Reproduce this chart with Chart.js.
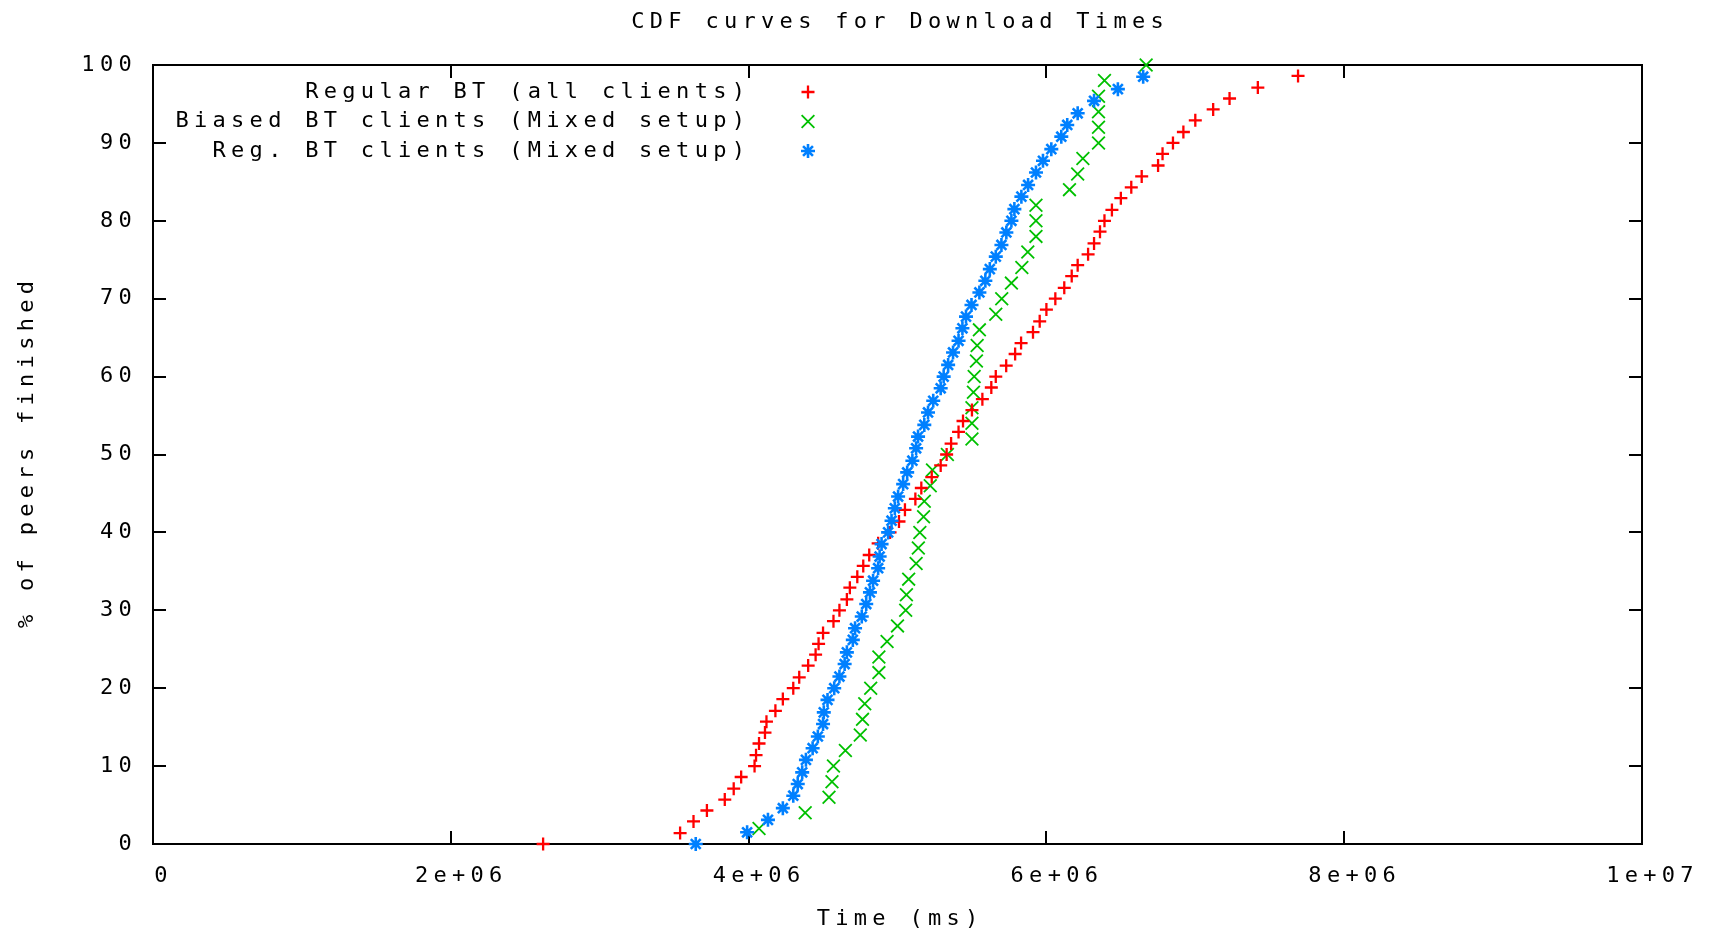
<!DOCTYPE html>
<html>
<head>
<meta charset="utf-8">
<title>CDF curves for Download Times</title>
<script src="https://cdn.jsdelivr.net/npm/chart.js@4.4.0/dist/chart.umd.min.js"></script>
<style>
  html, body { margin: 0; padding: 0; background: #fff; }
  #wrap { width: 1710px; height: 929px; position: relative; }
</style>
</head>
<body>
<div id="wrap"><canvas id="cdfChart"></canvas></div>
<script>
// Download time (ms) for each peer, sorted, and the % of peers finished at that point
const regularAllTime = [2.62e6, 3.54e6, 3.63e6, 3.72e6, 3.84e6, 3.90e6, 3.95e6, 4.04e6, 4.05e6, 4.07e6,
  4.11e6, 4.12e6, 4.18e6, 4.23e6, 4.30e6, 4.34e6, 4.40e6, 4.45e6, 4.47e6, 4.50e6,
  4.57e6, 4.61e6, 4.66e6, 4.68e6, 4.73e6, 4.77e6, 4.81e6, 4.87e6, 4.95e6, 5.01e6,
  5.05e6, 5.12e6, 5.16e6, 5.23e6, 5.29e6, 5.33e6, 5.36e6, 5.41e6, 5.44e6, 5.50e6,
  5.57e6, 5.63e6, 5.66e6, 5.73e6, 5.79e6, 5.83e6, 5.91e6, 5.955e6, 6.00e6, 6.06e6,
  6.12e6, 6.17e6, 6.21e6, 6.28e6, 6.32e6, 6.36e6, 6.39e6, 6.44e6, 6.50e6, 6.57e6,
  6.64e6, 6.75e6, 6.78e6, 6.85e6, 6.92e6, 7.00e6, 7.12e6, 7.23e6, 7.42e6, 7.69e6];
const regularAllPct = [0, 1.4, 2.9, 4.3, 5.7, 7.1, 8.6, 10.0, 11.4, 12.9,
  14.3, 15.7, 17.1, 18.6, 20.0, 21.4, 22.9, 24.3, 25.7, 27.1,
  28.6, 30.0, 31.4, 32.9, 34.3, 35.7, 37.1, 38.6, 40.0, 41.4,
  42.9, 44.3, 45.7, 47.1, 48.6, 50.0, 51.4, 52.9, 54.3, 55.7,
  57.1, 58.6, 60.0, 61.4, 62.9, 64.3, 65.7, 67.1, 68.6, 70.0,
  71.4, 72.9, 74.3, 75.7, 77.1, 78.6, 80.0, 81.4, 82.9, 84.3,
  85.7, 87.1, 88.6, 90.0, 91.4, 92.9, 94.3, 95.7, 97.1, 98.6];

const biasedMixedTime = [4.07e6, 4.38e6, 4.54e6, 4.56e6, 4.57e6, 4.65e6, 4.75e6, 4.765e6, 4.78e6, 4.82e6,
  4.875e6, 4.875e6, 4.93e6, 5.00e6, 5.055e6, 5.06e6, 5.075e6, 5.125e6, 5.14e6, 5.15e6,
  5.175e6, 5.18e6, 5.22e6, 5.235e6, 5.335e6, 5.50e6, 5.50e6, 5.50e6, 5.51e6, 5.515e6,
  5.53e6, 5.535e6, 5.55e6, 5.66e6, 5.70e6, 5.765e6, 5.835e6, 5.875e6, 5.93e6, 5.93e6,
  5.93e6, 6.155e6, 6.21e6, 6.245e6, 6.35e6, 6.35e6, 6.35e6, 6.35e6, 6.39e6, 6.67e6];
const biasedMixedPct = [2, 4, 6, 8, 10, 12, 14, 16, 18, 20,
  22, 24, 26, 28, 30, 32, 34, 36, 38, 40,
  42, 44, 46, 48, 50, 52, 54, 56, 58, 60,
  62, 64, 66, 68, 70, 72, 74, 76, 78, 80,
  82, 84, 86, 88, 90, 92, 94, 96, 98, 100];

const regularMixedTime = [3.645e6, 3.99e6, 4.13e6, 4.23e6, 4.30e6, 4.33e6, 4.36e6, 4.385e6, 4.43e6, 4.465e6,
  4.50e6, 4.505e6, 4.53e6, 4.575e6, 4.61e6, 4.645e6, 4.66e6, 4.70e6, 4.715e6, 4.76e6,
  4.79e6, 4.815e6, 4.836e6, 4.87e6, 4.88e6, 4.893e6, 4.937e6, 4.96e6, 4.982e6, 5.004e6,
  5.038e6, 5.065e6, 5.10e6, 5.125e6, 5.138e6, 5.18e6, 5.205e6, 5.24e6, 5.29e6, 5.31e6,
  5.34e6, 5.373e6, 5.41e6, 5.436e6, 5.46e6, 5.497e6, 5.55e6, 5.59e6, 5.62e6, 5.66e6,
  5.698e6, 5.731e6, 5.765e6, 5.785e6, 5.832e6, 5.877e6, 5.93e6, 5.977e6, 6.033e6, 6.10e6,
  6.14e6, 6.21e6, 6.32e6, 6.48e6, 6.65e6];
const regularMixedPct = [0, 1.5, 3.1, 4.6, 6.2, 7.7, 9.2, 10.8, 12.3, 13.8,
  15.4, 16.9, 18.5, 20.0, 21.5, 23.1, 24.6, 26.2, 27.7, 29.2,
  30.8, 32.3, 33.8, 35.4, 36.9, 38.5, 40.0, 41.5, 43.1, 44.6,
  46.2, 47.7, 49.2, 50.8, 52.3, 53.8, 55.4, 56.9, 58.5, 60.0,
  61.5, 63.1, 64.6, 66.2, 67.7, 69.2, 70.8, 72.3, 73.8, 75.4,
  76.9, 78.5, 80.0, 81.5, 83.1, 84.6, 86.2, 87.7, 89.2, 90.8,
  92.3, 93.8, 95.4, 96.9, 98.5];

const seriesLabels = ['Regular BT (all clients)', 'Biased BT clients (Mixed setup)', 'Reg. BT clients (Mixed setup)'];
const xTickValues = [0, 2e6, 4e6, 6e6, 8e6, 1e7];
const xTickLabels = ['0', '2e+06', '4e+06', '6e+06', '8e+06', '1e+07'];
const yTickValues = [0, 10, 20, 30, 40, 50, 60, 70, 80, 90, 100];

const chartTitle = 'CDF curves for Download Times';
const xTitle = 'Time (ms)';
const yTitle = '% of peers finished';

const FONT = "'DejaVu Sans Mono', 'Liberation Mono', monospace";
const FONT_SIZE = 22;
const GAP = 5.3; // gnuplot's font is very wide, so space the letters out
const TICK = 13;

const pairs = (xs, ys) => xs.map((x, i) => ({ x: x, y: ys[i] }));

const markers = [
  { style: 'cross', color: '#ff0000', radius: 6.5, width: 2.3 },
  { style: 'crossRot', color: '#00c000', radius: 9, width: 1.8 },
  { style: 'star', color: '#0080ff', radius: 7, width: 2.6 }
];

function spaced(ctx) {
  ctx.letterSpacing = GAP + 'px';
}

const gnuplotLook = {
  id: 'gnuplotLook',
  beforeLayout(chart) { spaced(chart.ctx); },
  beforeDraw(chart) { spaced(chart.ctx); },
  beforeDatasetsDraw(chart) {
    const ctx = chart.ctx;
    const a = chart.chartArea;
    const xs = chart.scales.x, ys = chart.scales.y;
    ctx.save();
    ctx.strokeStyle = '#000';
    ctx.lineWidth = 2;
    ctx.strokeRect(a.left, a.top, a.right - a.left, a.bottom - a.top);
    ctx.beginPath();
    xs.ticks.forEach(t => {
      const px = Math.round(xs.getPixelForValue(t.value));
      ctx.moveTo(px, a.bottom); ctx.lineTo(px, a.bottom - TICK);
      ctx.moveTo(px, a.top); ctx.lineTo(px, a.top + TICK);
    });
    ys.ticks.forEach(t => {
      const py = Math.round(ys.getPixelForValue(t.value));
      ctx.moveTo(a.left, py); ctx.lineTo(a.left + TICK, py);
      ctx.moveTo(a.right, py); ctx.lineTo(a.right - TICK, py);
    });
    ctx.stroke();
    ctx.restore();
  },
  afterDraw(chart) {
    const ctx = chart.ctx;
    const a = chart.chartArea;
    ctx.save();
    spaced(ctx);
    ctx.fillStyle = '#000';
    ctx.font = FONT_SIZE + 'px ' + FONT;
    ctx.textBaseline = 'middle';
    ctx.textAlign = 'center';
    const cx = (a.left + a.right) / 2;

    ctx.fillText(chartTitle, cx + GAP / 2, 22);
    ctx.fillText(xTitle, cx + GAP / 2, 919);

    ctx.save();
    ctx.translate(27, (a.top + a.bottom) / 2);
    ctx.rotate(-Math.PI / 2);
    ctx.fillText(yTitle, GAP / 2, 0);
    ctx.restore();

    // key, top left inside the frame
    ctx.textAlign = 'right';
    seriesLabels.forEach((label, i) => {
      const y = 92 + i * 29.5;
      ctx.fillStyle = '#000';
      ctx.fillText(label, 745 + GAP, y);
      const m = markers[i];
      ctx.strokeStyle = m.color;
      ctx.lineWidth = m.width;
      Chart.helpers.drawPoint(ctx, { pointStyle: m.style, radius: m.radius, rotation: 0, borderWidth: m.width }, 808, y);
    });
    ctx.restore();
  }
};

const datasets = [
  { data: pairs(regularAllTime, regularAllPct), order: 1 },
  { data: pairs(biasedMixedTime, biasedMixedPct), order: 2 },
  { data: pairs(regularMixedTime, regularMixedPct), order: 0 }
].map((d, i) => Object.assign(d, {
  label: seriesLabels[i],
  showLine: false,
  clip: false,
  pointStyle: markers[i].style,
  pointRadius: markers[i].radius,
  pointHoverRadius: markers[i].radius,
  pointBorderWidth: markers[i].width,
  pointBorderColor: markers[i].color,
  pointBackgroundColor: markers[i].color
}));

new Chart(document.getElementById('cdfChart'), {
  type: 'scatter',
  data: { datasets: datasets },
  options: {
    responsive: true,
    maintainAspectRatio: false,
    animation: false,
    devicePixelRatio: 1,
    layout: { padding: { top: 65, right: 68, left: 0, bottom: 0 } },
    plugins: {
      legend: { display: false },
      tooltip: { enabled: false },
      title: { display: false }
    },
    scales: {
      x: {
        type: 'linear',
        min: 0,
        max: 1e7,
        afterFit(scale) { scale.height = 85; },
        afterBuildTicks(scale) { scale.ticks = xTickValues.map(v => ({ value: v })); },
        grid: { display: false, drawTicks: false },
        border: { display: false },
        ticks: {
          padding: 19,
          labelOffset: 10.5,
          maxRotation: 0,
          autoSkip: false,
          color: '#000',
          font: { family: FONT, size: FONT_SIZE },
          callback: (v) => xTickLabels[xTickValues.indexOf(v)]
        }
      },
      y: {
        type: 'linear',
        min: 0,
        max: 100,
        afterFit(scale) { scale.width = 153; },
        afterBuildTicks(scale) { scale.ticks = yTickValues.map(v => ({ value: v })); },
        grid: { display: false, drawTicks: false },
        border: { display: false },
        ticks: {
          padding: 16,
          autoSkip: false,
          color: '#000',
          font: { family: FONT, size: FONT_SIZE }
        }
      }
    }
  },
  plugins: [gnuplotLook]
});
</script>
</body>
</html>
